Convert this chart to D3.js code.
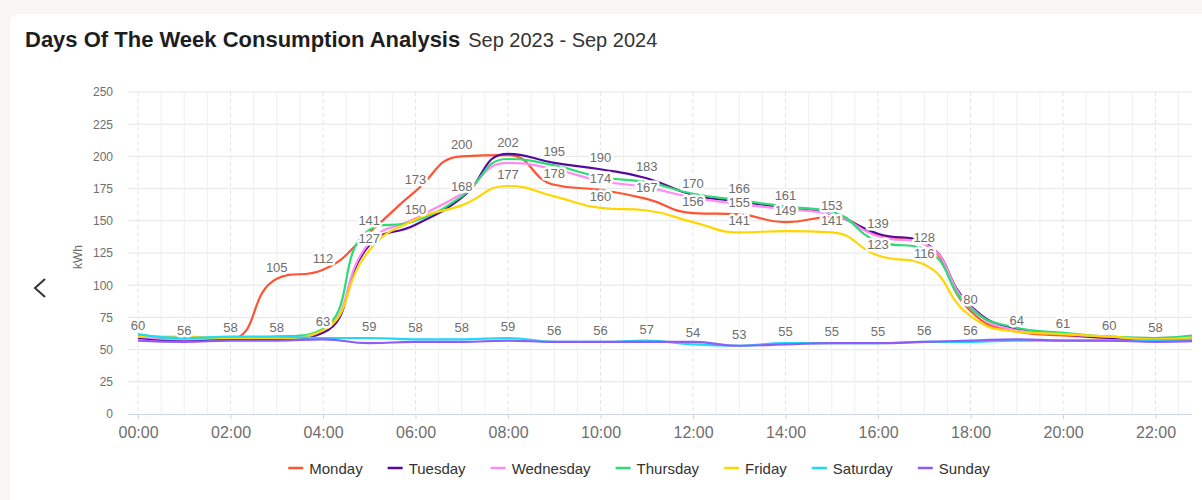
<!DOCTYPE html>
<html>
<head>
<meta charset="utf-8">
<script src="https://cdn.jsdelivr.net/npm/d3@7"></script>
<style>
  body { margin: 0; background: #f8f5f2; font-family: "Liberation Sans", Arial, sans-serif; }
  svg { display: block; }
</style>
</head>
<body>
<svg id="chart" width="1202" height="500"></svg>
<script>
// hourly consumption (kWh), Sep 2023 - Sep 2024
const hours = ['00:00','01:00','02:00','03:00','04:00','05:00','06:00','07:00','08:00','09:00','10:00','11:00',
               '12:00','13:00','14:00','15:00','16:00','17:00','18:00','19:00','20:00','21:00','22:00','23:00'];
const xTicks = ['00:00','02:00','04:00','06:00','08:00','10:00','12:00','14:00','16:00','18:00','20:00','22:00'];
const yTicks = [0, 25, 50, 75, 100, 125, 150, 175, 200, 225, 250];

const days = ['Monday','Tuesday','Wednesday','Thursday','Friday','Saturday','Sunday'];
const monday    = [59, 57, 58, 105, 112, 141, 173, 200, 201, 178, 174, 167, 156, 155, 149, 153, 139, 132, 80, 64, 61, 59, 58, 60];
const tuesday   = [59, 57, 58, 58, 63, 131, 147, 168, 202, 195, 190, 183, 170, 165, 160, 155, 140, 133, 84, 66, 62, 59, 58, 60];
const wednesday = [60, 58, 59, 59, 65, 133, 152, 171, 195, 190, 181, 176, 168, 163, 159, 155, 138, 132, 83, 65, 62, 60, 59, 60];
const thursday  = [61, 59, 59, 60, 66, 143, 150, 169, 198, 193, 184, 180, 171, 166, 161, 157, 134, 128, 82, 67, 63, 60, 59, 62];
const friday    = [60, 60, 59, 59, 65, 127, 151, 162, 177, 169, 160, 158, 149, 141, 142, 141, 123, 116, 76, 64, 62, 60, 58, 60];
const saturday  = [62, 59, 60, 60, 59, 59, 58, 58, 59, 56, 56, 57, 54, 53, 55, 55, 55, 56, 56, 57, 57, 57, 57, 58];
const sunday    = [57, 56, 57, 57, 58, 55, 56, 56, 57, 56, 56, 56, 56, 53, 54, 55, 55, 56, 57, 58, 57, 57, 56, 57];
const series = [monday, tuesday, wednesday, thursday, friday, saturday, sunday];

// which point labels survive the overlap hiding: [hour index, day index]
const shownLabels = [
  [0,2],[1,6],[2,0],[3,0],[3,1],[4,0],[4,1],[5,0],[5,4],[5,5],[6,0],[6,3],[6,5],[7,0],[7,1],[7,5],
  [8,1],[8,4],[8,5],[9,1],[9,0],[9,5],[10,1],[10,0],[10,4],[10,5],[11,1],[11,0],[11,5],
  [12,1],[12,0],[12,5],[13,3],[13,0],[13,4],[13,5],[14,3],[14,0],[14,5],[15,0],[15,4],[15,5],
  [16,0],[16,4],[16,5],[17,3],[17,4],[17,5],[18,0],[18,5],[19,0],[20,0],[21,2],[22,1]
];

const colors = ['#ff5433', '#560c9a', '#ff8cf2', '#2edc75', '#ffd600', '#1fd9f7', '#8e5cf7'];

const svg = d3.select('#chart');
const width = +svg.attr('width');
const height = +svg.attr('height');

// card
svg.append('rect').attr('x', 10).attr('y', 14).attr('width', width).attr('height', height)
  .attr('rx', 8).attr('fill', '#fff');

const title = svg.append('text').attr('x', 25).attr('y', 47)
  .attr('font-size', 22).attr('font-weight', 'bold').attr('fill', '#1e1e1e')
  .text('Days Of The Week Consumption Analysis');
const tw = title.node().getComputedTextLength();
svg.append('text').attr('x', 25 + tw + 8).attr('y', 47)
  .attr('font-size', 20).attr('fill', '#333')
  .text('Sep 2023 - Sep 2024');

// previous-arrow
svg.append('path').attr('d', 'M45,279 L35,288 L45,297')
  .attr('fill', 'none').attr('stroke', '#333').attr('stroke-width', 2);

const plot = {left: 128, right: 1192, top: 92, bottom: 414};
const x = d3.scaleLinear().domain([0, 23]).range([138, 138 + 23 * 46.25]);
const y = d3.scaleLinear().domain([0, 250]).range([plot.bottom, plot.top]);

svg.append('clipPath').attr('id', 'clip').append('rect')
  .attr('x', plot.left).attr('y', 60).attr('width', plot.right - plot.left).attr('height', 380);

const g = svg.append('g').attr('clip-path', 'url(#clip)');

// horizontal grid
g.append('g').selectAll('line').data(yTicks.slice(1)).join('line')
  .attr('x1', plot.left).attr('x2', plot.right)
  .attr('y1', d => y(d)).attr('y2', d => y(d))
  .attr('stroke', '#e6e6e6');

// vertical grid: half-hour minor lines, dashed at labelled ticks
const halfHours = d3.range(1, 47).map(d => d / 2).filter(d => d % 2 !== 0);
g.append('g').selectAll('line').data(halfHours).join('line')
  .attr('x1', d => x(d)).attr('x2', d => x(d))
  .attr('y1', plot.top).attr('y2', plot.bottom)
  .attr('stroke', '#efefef');
g.append('g').selectAll('line').data(xTicks).join('line')
  .attr('x1', d => x(hours.indexOf(d))).attr('x2', d => x(hours.indexOf(d)))
  .attr('y1', plot.top).attr('y2', plot.bottom)
  .attr('stroke', '#e2e4ec').attr('stroke-dasharray', '4,3');

// y axis
const yAxisG = svg.append('g').attr('transform', `translate(${plot.left - 12},0)`)
  .call(d3.axisLeft(y).tickValues(yTicks).tickSize(0).tickPadding(3));
yAxisG.select('.domain').remove();
yAxisG.selectAll('text').attr('font-size', 12).attr('fill', '#6e6e6e')
  .attr('font-family', '"Liberation Sans", Arial, sans-serif');

svg.append('text').attr('transform', 'translate(82,257) rotate(-90)')
  .attr('text-anchor', 'middle').attr('font-size', 12).attr('fill', '#6e6e6e').text('kWh');

// x axis
const xAxisG = svg.append('g')
  .attr('transform', `translate(0,${plot.bottom})`)
  .call(d3.axisBottom(x).tickValues(xTicks.map(t => hours.indexOf(t)))
    .tickFormat(d => hours[d]).tickSize(5).tickSizeOuter(0).tickPadding(8));
xAxisG.select('.domain').attr('d', `M${plot.left},0.5H${plot.right}`).attr('stroke', '#ccd5e6');
xAxisG.selectAll('.tick line').attr('stroke', '#ccd5e6');
xAxisG.selectAll('text').attr('font-size', 16).attr('fill', '#6e6e6e')
  .attr('font-family', '"Liberation Sans", Arial, sans-serif');

// ECharts-style smoothing (smooth: true -> 0.5, clamped to neighbours)
const clamp = (v, a, b) => Math.max(Math.min(a, b), Math.min(Math.max(a, b), v));
function EchartsSmooth(context) { this._context = context; }
EchartsSmooth.prototype = {
  areaStart() {}, areaEnd() {},
  lineStart() { this._pts = []; },
  point(px, py) { this._pts.push([+px, +py]); },
  lineEnd() {
    const p = this._pts, c = this._context, s = 0.5, n = p.length;
    if (!n) return;
    c.moveTo(p[0][0], p[0][1]);
    let cp0 = p[0];
    for (let k = 1; k < n; k++) {
      const [cx, cy] = p[k];
      let cp1, next = null;
      if (k === n - 1) {
        cp1 = [cx, cy];
      } else {
        const [px, py] = p[k - 1], [nx, ny] = p[k + 1];
        let vx = nx - px, vy = ny - py;
        const lp = Math.hypot(cx - px, cy - py), ln = Math.hypot(nx - cx, ny - cy);
        const r = ln / (ln + lp);
        let ox = clamp(cx + vx * s * r, cx, nx), oy = clamp(cy + vy * s * r, cy, ny);
        vx = ox - cx; vy = oy - cy;
        const ix = clamp(cx - vx * lp / ln, px, cx), iy = clamp(cy - vy * lp / ln, py, cy);
        vx = cx - ix; vy = cy - iy;
        ox = cx + vx * ln / lp; oy = cy + vy * ln / lp;
        cp1 = [ix, iy]; next = [ox, oy];
      }
      c.bezierCurveTo(cp0[0], cp0[1], cp1[0], cp1[1], cx, cy);
      cp0 = next;
    }
  }
};

const line = d3.line()
  .x((d, i) => x(i))
  .y(d => y(d))
  .curve(ctx => new EchartsSmooth(ctx));

g.append('g').selectAll('path').data(series).join('path')
  .attr('d', d => line(d))
  .attr('fill', 'none')
  .attr('stroke', (d, i) => colors[i])
  .attr('stroke-width', 2.2);

// point labels
g.append('g').selectAll('text').data(shownLabels).join('text')
  .attr('x', d => x(d[0]))
  .attr('y', d => y(series[d[1]][d[0]]) - 7)
  .attr('text-anchor', 'middle')
  .attr('font-size', 13)
  .attr('fill', '#6e6e6e')
  .attr('stroke', '#fff').attr('stroke-width', 5).attr('paint-order', 'stroke')
  .attr('stroke-linejoin', 'round')
  .text(d => series[d[1]][d[0]]);

// legend
const legend = svg.append('g');
let lx = 0;
days.forEach((day, i) => {
  const item = legend.append('g').attr('transform', `translate(${lx},0)`);
  item.append('line').attr('x1', 0).attr('x2', 15).attr('y1', 0).attr('y2', 0)
    .attr('stroke', colors[i]).attr('stroke-width', 2.5);
  const t = item.append('text').attr('x', 21).attr('y', 5.5)
    .attr('font-size', 15).attr('fill', '#333').text(day);
  lx += 21 + t.node().getComputedTextLength() + 25;
});
legend.attr('transform', `translate(${639 - (lx - 25) / 2},468)`);
</script>
</body>
</html>
